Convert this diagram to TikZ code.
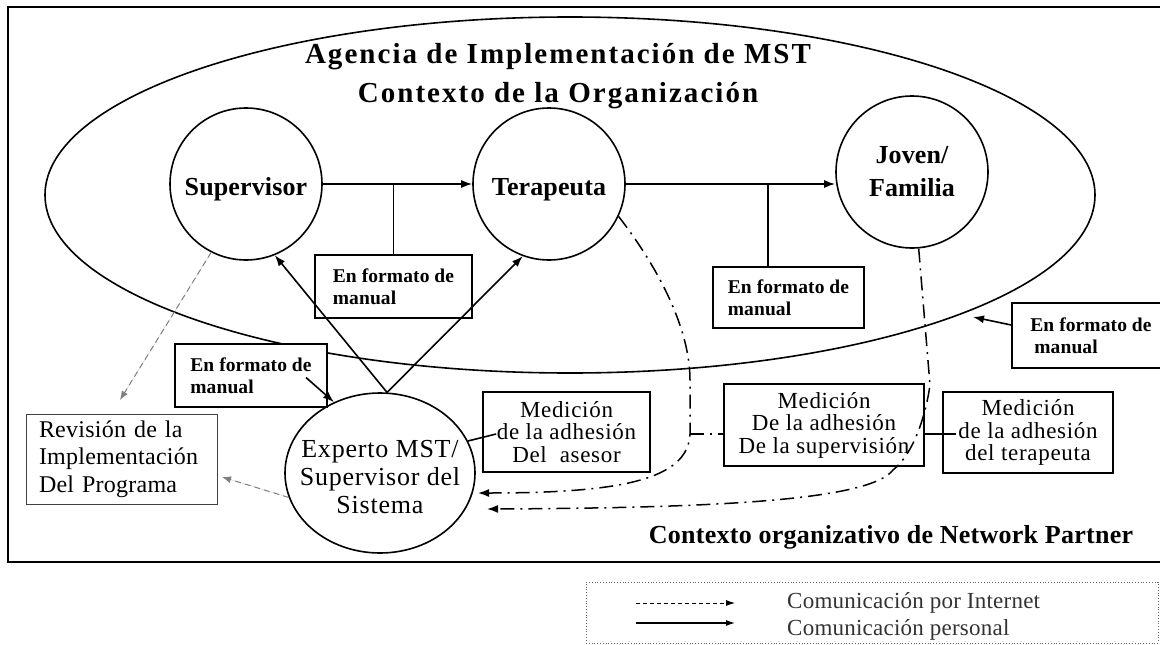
\documentclass[tikz,border=0pt]{standalone}
\usepackage{fontspec}
\setmainfont{Liberation Serif}
\usetikzlibrary{shapes.geometric,arrows.meta,calc}
\newcommand\fTitle{\fontsize{29}{39}\selectfont\bfseries\addfontfeatures{LetterSpace=7}}
\newcommand\fCirc{\fontsize{26}{33}\selectfont\bfseries\addfontfeatures{LetterSpace=0.5}}
\newcommand\fFmt{\fontsize{19.5}{22}\selectfont\bfseries\addfontfeatures{LetterSpace=0.5}}
\newcommand\fMed{\fontsize{23}{22.5}\selectfont\addfontfeatures{LetterSpace=3}}
\newcommand\fRev{\fontsize{24}{27.5}\selectfont\addfontfeatures{LetterSpace=1}}
\newcommand\fExp{\fontsize{26}{28}\selectfont\addfontfeatures{LetterSpace=3}}
\newcommand\fCtx{\fontsize{26}{30}\selectfont\bfseries\addfontfeatures{LetterSpace=1}}
\newcommand\fLeg{\fontsize{23}{26}\selectfont\addfontfeatures{LetterSpace=1}}
\tikzset{
  circ/.style={draw, circle, line width=1.6pt, minimum size=152pt, inner sep=0pt, align=center, font=\fCirc},
  circone/.style={circ, text height=22pt, text depth=-2pt},
  fmtbox/.style={draw, fill=white, line width=1.7pt, inner xsep=5pt, inner ysep=0pt, align=left, font=\fFmt},
  medbox/.style={draw, fill=white, line width=1.7pt, inner sep=0pt, align=center, font=\fMed},
  arr/.style={-{Latex[length=11pt,width=8pt]}},
  garr/.style={-{Latex[length=9pt,width=7pt]}},
  conn/.style={line width=1.6pt},
  dd/.style={line width=1.5pt, dash pattern=on 14pt off 6pt on 2pt off 6pt},
  gd/.style={draw=gray, fill=gray, line width=1pt, dash pattern=on 6pt off 4pt},
}
\begin{document}
\begin{tikzpicture}[x=1pt,y=-1pt]
\clip (0,0) rectangle (1160,645);
\fill[white] (0,0) rectangle (1160,645);
% outer frame
\draw[line width=2.2pt] (8,7) rectangle (1175,562);
% agency ellipse
\node[draw, ellipse, line width=1.6pt, minimum width=1050pt, minimum height=356pt, inner sep=0pt] (agency) at (570,195) {};
\node[font=\fTitle, align=center] (title) at (558,76) {Agencia de Implementación de MST\\Contexto de la Organización};
% circles
\node[circone] (sup) at (246,184) {Supervisor};
\node[circone] (ter) at (549,184) {Terapeuta};
\node[circ] (jov) at (912,172) {Joven/\\Familia};
\node[draw, ellipse, line width=1.6pt, minimum width=190pt, minimum height=160pt, inner sep=0pt] (exp) at (380,473) {};
\node[font=\fExp, align=center] (exptxt) at (380,477) {Experto MST/\\Supervisor del\\Sistema};
% boxes
\node[fmtbox, minimum width=157pt, minimum height=63pt] (box1) at (393.5,286.5) {En formato de\\manual};
\node[fmtbox, minimum width=151pt, minimum height=61pt] (box2) at (788.5,297.5) {En formato de\\manual};
\node[fmtbox, minimum width=158pt, minimum height=65pt] (box3) at (1091,335.5) {En formato de\\\hspace*{4pt}manual};
\node[fmtbox, minimum width=152pt, minimum height=63pt] (box4) at (251,375.5) {En formato de\\manual};
\node[draw=black!75, fill=white, line width=1pt, inner xsep=13pt, inner ysep=0pt, text width=165pt, minimum height=90pt, align=left, font=\fRev] (box5) at (121.5,459) {Revisión de la\\Implementación\\Del Programa};
\node[medbox, minimum width=167pt, minimum height=80pt] (box6) at (566.5,432) {Medición\\de la adhesión\\Del~~asesor};
\node[medbox, minimum width=200pt, minimum height=82pt] (box7) at (824,425) {Medición\\De la adhesión\\De la supervisión};
\node[medbox, minimum width=170pt, minimum height=81pt] (box8) at (1028,432.5) {Medición\\de la adhesión\\del terapeuta};
\node[font=\fCtx] (ctx) at (891,537) {Contexto organizativo de Network Partner};
% coordinates
\coordinate (v2) at (768,184);
\coordinate (elltip) at (973,317);
\coordinate (revtip) at (120,400);
\coordinate (revtip2) at (222,477);
\coordinate (jA) at (690,434);
\coordinate (tipA) at (478,493);
\coordinate (tipB) at (487,509);
% solid connectors
\draw[conn,arr] (sup.east) -- (ter.west);
\draw[conn,arr] (ter.east) -- (ter.east -| jov.west);
\draw[conn] (box1.north) -- (box1.north |- sup.east);
\draw[conn] (v2) -- (v2 |- box2.north);
\draw[conn,arr] (exp.85) -- (sup.-68);
\draw[conn,arr] (exp.85) -- (ter.-110);
\draw[conn,arr] ($(box3.west)+(0,-10.5)$) -- (elltip);
\draw[conn,arr] ($(box4.center)+(55,2)$) -- (exp.123);
\draw[conn] (exp.20) -- ($(box6.west)+(14,2)$);
\draw[conn] ($(box7.east)+(0,9)$) -- ($(box8.west)+(14,1.5)$);
% gray dashed
\draw[gd,garr] (sup.-117) -- (revtip);
\draw[gd,garr] (exp.195) -- (revtip2);
% dash-dot
\draw[dd,arr] (ter.-25) .. controls (660,270) and (690,330) .. (690,380) -- (jA) .. controls (688,480) and (620,493) .. (tipA);
\draw[dd] (jA) -- (jA -| box7.west);
\draw[dd,arr] (jov.-85) -- (930,385) .. controls (925,420) and (912,455) .. (893,470) .. controls (870,500) and (720,508) .. (tipB);
% legend
\node[draw=black!60, dotted, line width=0.8pt, minimum width=572pt, minimum height=61pt, inner sep=0pt] (legend) at (872,612.5) {};
\coordinate (l1a) at (636,603);
\coordinate (l1b) at (735,603);
\coordinate (l2a) at (636,623);
\coordinate (l2b) at (735,623);
\draw[line width=0.9pt, dash pattern=on 4pt off 3pt, -{Latex[length=9pt,width=6pt]}] (l1a) -- (l1b);
\draw[line width=1.1pt, -{Latex[length=9pt,width=6pt]}] (l2a) -- (l2b);
\node[font=\fLeg, text=black!80, anchor=west, inner sep=0pt] (leg1) at (787,603) {Comunicación por Internet};
\node[font=\fLeg, text=black!80, anchor=west, inner sep=0pt] (leg2) at (787,630) {Comunicación personal};
\end{tikzpicture}
\end{document}
